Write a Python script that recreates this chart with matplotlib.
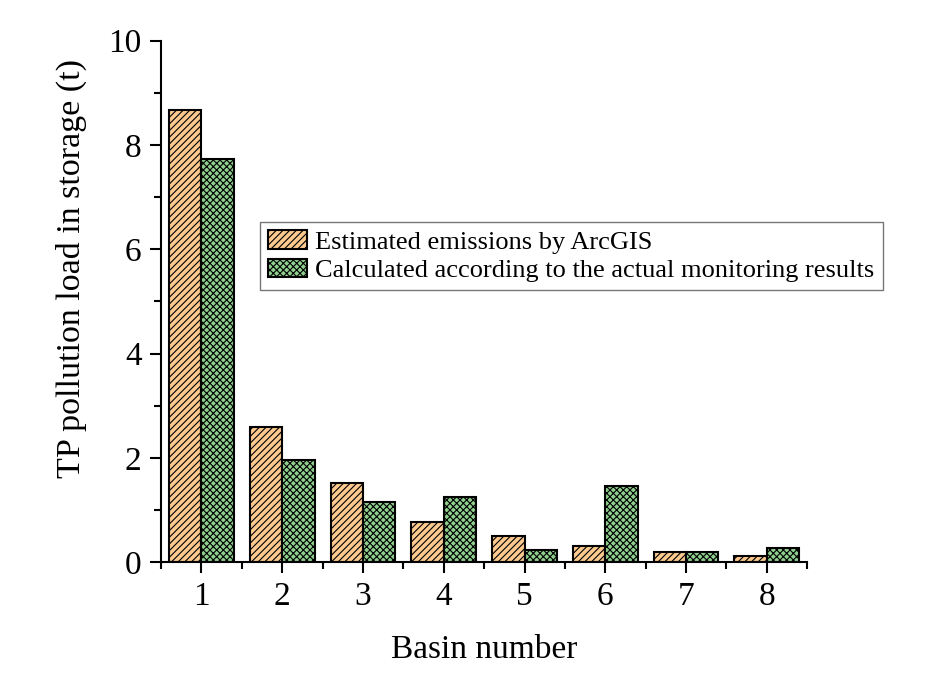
import numpy as np
import matplotlib
matplotlib.use('Agg')
import matplotlib.pyplot as plt
from matplotlib.ticker import MultipleLocator

plt.rcParams['font.family'] = ['Liberation Serif', 'DejaVu Serif']
plt.rcParams['hatch.linewidth'] = 0.8

# TP load per basin (t)
basins = [1, 2, 3, 4, 5, 6, 7, 8]
estimated = [8.68, 2.59, 1.52, 0.77, 0.50, 0.31, 0.19, 0.12]
monitored = [7.73, 1.96, 1.15, 1.25, 0.23, 1.46, 0.19, 0.27]

fig, ax = plt.subplots(figsize=(9.31, 6.79), dpi=100)
fig.subplots_adjust(left=0.173, right=0.867, top=0.94, bottom=0.172)

x = np.array(basins)
w = 0.4
ax.bar(x - w / 2, estimated, width=w, color='#fcc98e', edgecolor='black',
       linewidth=1.5, hatch='/////', label='Estimated emissions by ArcGIS')
ax.bar(x + w / 2, monitored, width=w, color='#8fd08f', edgecolor='black',
       linewidth=1.5, hatch='xxxxx',
       label='Calculated according to the actual monitoring results')

ax.set_xlim(0.5, 8.5)
ax.set_ylim(0, 10)
ax.set_xticks(basins)
ax.xaxis.set_minor_locator(MultipleLocator(0.5))
ax.yaxis.set_major_locator(MultipleLocator(2))
ax.yaxis.set_minor_locator(MultipleLocator(1))

for s in ['top', 'right']:
    ax.spines[s].set_visible(False)
for s in ['left', 'bottom']:
    ax.spines[s].set_linewidth(1.5)

ax.tick_params(which='major', direction='out', length=8, width=1.5,
               labelsize=24, pad=6)
ax.tick_params(which='minor', direction='out', length=5, width=1.5)

ax.set_xlabel('Basin number', fontsize=24, labelpad=16)
ax.set_ylabel('TP pollution load in storage (t)', fontsize=24.5)
ax.yaxis.set_label_coords(-0.114, 0.564)

leg = ax.legend(loc='upper left', bbox_to_anchor=(0.153, 0.652), fontsize=19,
                frameon=True, fancybox=False, edgecolor='#555555',
                borderpad=0.3, labelspacing=0.2, handlelength=1.5,
                handletextpad=0.3, borderaxespad=0)
leg.get_frame().set_linewidth(1.0)

fig.savefig('out.png', dpi=100)
